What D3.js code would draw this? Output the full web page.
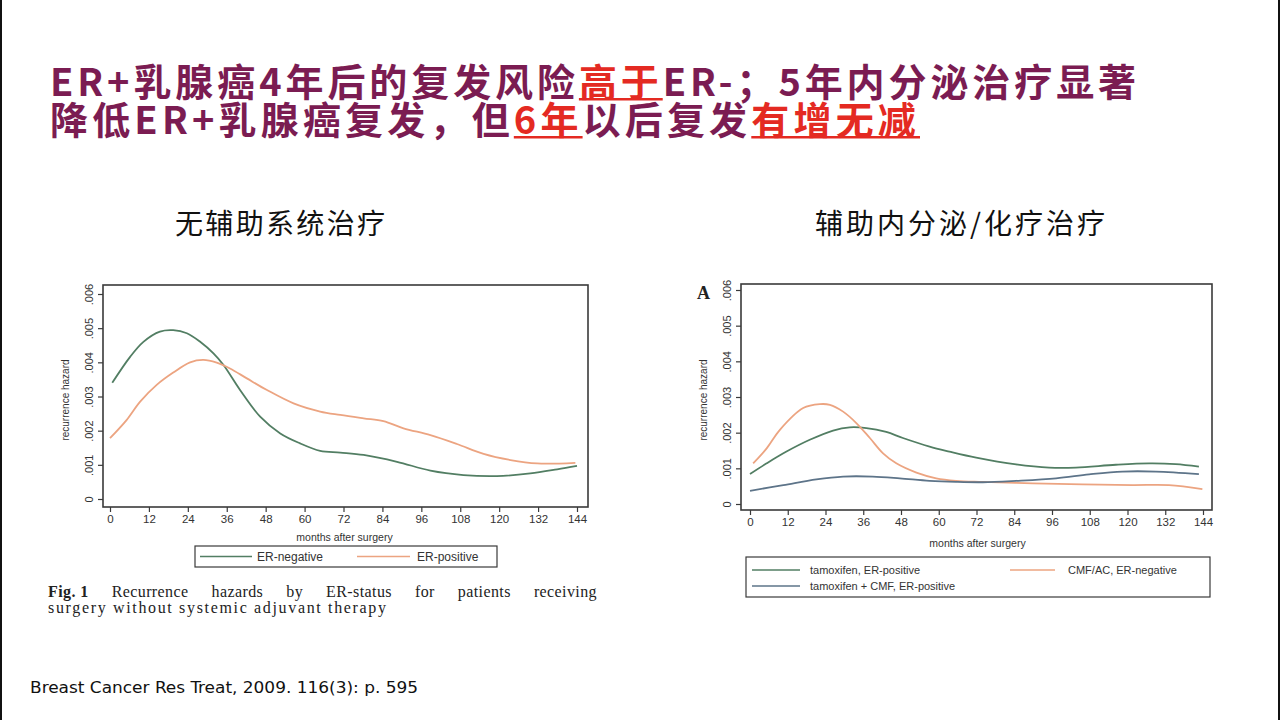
<!DOCTYPE html>
<html>
<head>
<meta charset="utf-8">
<script src="https://cdn.jsdelivr.net/npm/d3@7"></script>
<style>
  body { margin: 0; background: #fff; }
  svg text { font-family: "Liberation Sans", Arial, sans-serif; }
</style>
</head>
<body>
<div id="slide"></div>
<script>
// ---- Data (months after surgery, recurrence hazard) ----
const monthTicks = [0, 12, 24, 36, 48, 60, 72, 84, 96, 108, 120, 132, 144];
const hazardTicks = [0, 0.001, 0.002, 0.003, 0.004, 0.005, 0.006];

// Left panel: no systemic adjuvant therapy
const erNegative = [[0.7, .00340], [6.2, .00416], [10.3, .00460], [15.4, .00490], [19.5, .00494],
    [23.7, .00485], [27.8, .00460], [31.9, .00426], [35, .00392], [40.1, .00319], [46.3, .00241],
    [52.5, .00192], [58.6, .00163], [64.8, .00141], [71, .00136], [78.2, .00129], [88.5, .00109],
    [98.8, .00083], [109, .00070], [119.3, .00067], [129.6, .00075], [137.9, .00087], [144, .00097]];
const erPositive = [[0, .00178], [5.1, .00231], [9.3, .00285], [14.4, .00334], [19.5, .00370],
    [24.7, .00400], [28.8, .00407], [32.9, .00399], [37, .00382], [42.2, .00353], [48.4, .00319],
    [56.6, .00280], [64.8, .00256], [71, .00246], [78.2, .00236], [84.3, .00228], [90.5, .00207],
    [98.8, .00187], [107, .00161], [115.2, .00132], [123.5, .00114], [131.7, .00104], [143.5, .00106]];

// Right panel: adjuvant endocrine / chemotherapy
const tamoxifenErPos = [[0, .00084], [5.3, .00114], [11.6, .00147], [19, .00180], [26.4, .00206],
    [31.7, .00215], [37, .00213], [43.3, .00202], [48.6, .00185], [57.1, .00161], [63.4, .00147],
    [71.9, .00130], [84.6, .00111], [95.1, .00102], [103.6, .00102], [116.3, .00110],
    [126.9, .00114], [135.3, .00112], [142.7, .00105]];
const tamCmfErPos = [[0, .00037], [10.6, .00053], [21.1, .00069], [29.6, .00077], [39, .00077],
    [47.6, .00072], [57.1, .00065], [65.5, .00062], [74, .00061], [84.6, .00065], [97.3, .00072],
    [107.8, .00083], [118.4, .00091], [129, .00091], [142.7, .00084]];
const cmfAcErNeg = [[1, .00114], [5.3, .00156], [9.5, .00208], [16.9, .00269], [22.2, .00280],
    [25.4, .00278], [29.6, .00259], [33.8, .00227], [38.1, .00185], [42.3, .00142], [46.5, .00114],
    [52.9, .00088], [59.2, .00072], [65.5, .00065], [74, .00062], [89.9, .00058], [105.7, .00055],
    [121.6, .00053], [133.2, .00053], [143.8, .00042]];

// Text
const titleLines = [
    [["ER+乳腺癌4年后的复发风险", false], ["高于", true], ["ER-；5年内分泌治疗显著", false]],
    [["降低ER+乳腺癌复发，但", false], ["6年", true], ["以后复发", false], ["有增无减", true]]
];
const captionWords = ["Recurrence", "hazards", "by", "ER-status", "for", "patients", "receiving"];

// Colours
const purple = "#7b1c52";
const red = "#e42a22";
const green = "#527e63";
const orange = "#eca481";
const slate = "#5d7489";

const width = 1280;
const height = 720;

const svg = d3.select("#slide")
    .append("svg")
    .attr("width", width)
    .attr("height", height);

svg.append("rect").attr("width", width).attr("height", height).attr("fill", "#fff");
// thin dark edges of the slide
svg.append("rect").attr("x", 0).attr("y", 0).attr("width", 2).attr("height", height).attr("fill", "#111");
svg.append("rect").attr("x", width - 2).attr("y", 0).attr("width", 2).attr("height", height).attr("fill", "#111");

// ---- Title: one text block, two lines, highlighted parts red and underlined ----
const titleFont = "'Noto Sans CJK SC', sans-serif";
const titleSpec = [{ y: 96, len: 1090 }, { y: 134, len: 870 }];
const title = svg.append("text")
    .style("font-family", titleFont)
    .attr("font-size", "38px")
    .attr("font-weight", "bold")
    .attr("fill", purple);

const titleMarks = [];
let charIdx = 0;
titleLines.forEach((parts, i) => {
    const full = parts.map(p => p[0]).join("");
    // measure natural width to spread the line to the reference width
    const probe = svg.append("text")
        .style("font-family", titleFont)
        .attr("font-size", "38px")
        .attr("font-weight", "bold")
        .text(full);
    const natural = probe.node().getComputedTextLength();
    probe.remove();
    const spacing = (titleSpec[i].len - natural) / full.length;

    const lineSpan = title.append("tspan")
        .attr("x", 50)
        .attr("y", titleSpec[i].y)
        .attr("letter-spacing", spacing + "px");
    parts.forEach(([str, hi]) => {
        lineSpan.append("tspan").attr("fill", hi ? red : purple).text(str);
        if (hi) titleMarks.push([charIdx, charIdx + str.length - 1, titleSpec[i].y]);
        charIdx += str.length;
    });
});
titleMarks.forEach(([a, b, y]) => {
    const node = title.node();
    const x0 = node.getStartPositionOfChar(a).x;
    const x1 = node.getEndPositionOfChar(b).x;
    svg.append("rect")
        .attr("x", x0).attr("y", y + 2)
        .attr("width", x1 - x0).attr("height", 2.5)
        .attr("fill", red);
});

// ---- Panel subtitles ----
[["无辅助系统治疗", 175, 210], ["辅助内分泌/化疗治疗", 815, 290]].forEach(([str, x, len]) => {
    svg.append("text")
        .attr("x", x)
        .attr("y", 234)
        .style("font-family", "'Noto Sans CJK SC', sans-serif")
        .attr("font-size", "28px")
        .attr("fill", "#111")
        .attr("textLength", len)
        .attr("lengthAdjust", "spacing")
        .text(str);
});

// ---- A Stata-style hazard panel ----
function drawPanel(p) {
    const xScale = d3.scaleLinear().domain([0, 144]).range(p.xRange);
    const yScale = d3.scaleLinear().domain([0, 0.006]).range(p.yRange);

    // plot frame
    svg.append("rect")
        .attr("x", p.frame[0]).attr("y", p.frame[1])
        .attr("width", p.frame[2] - p.frame[0]).attr("height", p.frame[3] - p.frame[1])
        .attr("fill", "#fff")
        .attr("stroke", "#3a3a3a")
        .attr("stroke-width", 1.6);

    // Y-axis with rotated labels
    const yAxis = svg.append("g")
        .attr("transform", `translate(${p.frame[0]},0)`)
        .call(d3.axisLeft(yScale)
            .tickValues(hazardTicks)
            .tickSize(5)
            .tickFormat(d => d === 0 ? "0" : d3.format(".3f")(d).replace("0.", ".")));
    yAxis.select(".domain").remove();
    yAxis.selectAll("line").attr("stroke", "#3a3a3a").attr("stroke-width", 1.2);
    yAxis.selectAll("text")
        .attr("transform", "rotate(-90)")
        .attr("x", 0).attr("y", -10).attr("dy", 0)
        .attr("text-anchor", "middle")
        .attr("font-size", "11px")
        .attr("fill", "#333")
        .style("font-family", "'Liberation Sans', Arial, sans-serif");

    // X-axis
    const xAxis = svg.append("g")
        .attr("transform", `translate(0,${p.frame[3]})`)
        .call(d3.axisBottom(xScale).tickValues(monthTicks).tickSize(5).tickPadding(3));
    xAxis.select(".domain").remove();
    xAxis.selectAll("line").attr("stroke", "#3a3a3a").attr("stroke-width", 1.2);
    xAxis.selectAll("text")
        .attr("font-size", "11.5px")
        .attr("fill", "#333")
        .style("font-family", "'Liberation Sans', Arial, sans-serif");

    // axis titles
    svg.append("text")
        .attr("transform", `translate(${p.yTitleX},400) rotate(-90)`)
        .attr("text-anchor", "middle")
        .attr("font-size", "10px")
        .attr("fill", "#333")
        .text("recurrence hazard");
    svg.append("text")
        .attr("x", (p.xRange[0] + p.xRange[1]) / 2 + 1)
        .attr("y", p.xTitleY)
        .attr("text-anchor", "middle")
        .attr("font-size", "10.5px")
        .attr("fill", "#333")
        .text("months after surgery");

    // hazard curves
    const line = d3.line()
        .x(d => xScale(d[0]))
        .y(d => yScale(d[1]))
        .curve(d3.curveCatmullRom.alpha(0.5));
    p.series.forEach(s => {
        svg.append("path")
            .datum(s.data)
            .attr("fill", "none")
            .attr("stroke", s.color)
            .attr("stroke-width", 1.8)
            .attr("d", line);
    });

    // legend box
    const lb = p.legendBox;
    svg.append("rect")
        .attr("x", lb[0]).attr("y", lb[1])
        .attr("width", lb[2] - lb[0]).attr("height", lb[3] - lb[1])
        .attr("fill", "#fff")
        .attr("stroke", "#3a3a3a")
        .attr("stroke-width", 1.2);
    p.series.forEach(s => {
        svg.append("line")
            .attr("x1", s.key[0]).attr("x2", s.key[0] + s.key[3])
            .attr("y1", s.key[2]).attr("y2", s.key[2])
            .attr("stroke", s.color)
            .attr("stroke-width", 1.6);
        svg.append("text")
            .attr("x", s.key[1])
            .attr("y", s.key[2] + 4)
            .attr("font-size", p.legendFont)
            .attr("fill", "#333")
            .text(s.name);
    });
}

drawPanel({
    frame: [103, 285, 588, 507],
    xRange: [110, 577],
    yRange: [499, 294],
    yTitleX: 69,
    xTitleY: 541,
    legendBox: [195, 546, 497, 567],
    legendFont: "12px",
    series: [
        { name: "ER-negative", data: erNegative, color: green, key: [200, 257, 556.5, 52] },
        { name: "ER-positive", data: erPositive, color: orange, key: [357, 417, 556.5, 53] }
    ]
});

drawPanel({
    frame: [741, 284, 1212, 510],
    xRange: [750, 1203],
    yRange: [504, 290],
    yTitleX: 707,
    xTitleY: 547,
    legendBox: [746, 557, 1210, 597],
    legendFont: "11px",
    series: [
        { name: "tamoxifen, ER-positive", data: tamoxifenErPos, color: green, key: [752, 810, 570, 48] },
        { name: "CMF/AC, ER-negative", data: cmfAcErNeg, color: orange, key: [1010, 1068, 570, 45] },
        { name: "tamoxifen + CMF, ER-positive", data: tamCmfErPos, color: slate, key: [752, 810, 586, 48] }
    ]
});

// panel letter
svg.append("text")
    .attr("x", 697).attr("y", 299)
    .style("font-family", "'Liberation Serif', 'Times New Roman', serif")
    .attr("font-size", "18px")
    .attr("font-weight", "bold")
    .attr("fill", "#222")
    .text("A");

// ---- Figure caption (justified first line) ----
const capX0 = 48, capX1 = 597, capY = 597;
const capFont = "'Liberation Serif', 'Times New Roman', serif";
const capTokens = [{ s: "Fig. 1", b: true }].concat(captionWords.map(w => ({ s: w, b: false })));
const capNodes = capTokens.map(tk => svg.append("text")
    .attr("y", capY)
    .style("font-family", capFont)
    .attr("font-size", "16px")
    .attr("font-weight", tk.b ? "bold" : "normal")
    .attr("fill", "#222")
    .attr("letter-spacing", "0.4px")
    .text(tk.s));
const capWidths = capNodes.map(n => n.node().getComputedTextLength());
const capGap = (capX1 - capX0 - d3.sum(capWidths)) / (capNodes.length - 1);
let cx = capX0;
capNodes.forEach((n, i) => { n.attr("x", cx); cx += capWidths[i] + capGap; });

svg.append("text")
    .attr("x", capX0).attr("y", capY + 16)
    .style("font-family", capFont)
    .attr("font-size", "16px")
    .attr("fill", "#222")
    .attr("textLength", 338)
    .attr("lengthAdjust", "spacing")
    .text("surgery without systemic adjuvant therapy");

// ---- Source reference ----
svg.append("text")
    .attr("x", 30).attr("y", 693)
    .style("font-family", "'DejaVu Sans Condensed', 'DejaVu Sans', sans-serif")
    .attr("font-size", "16px")
    .attr("fill", "#111")
    .attr("textLength", 388)
    .attr("lengthAdjust", "spacingAndGlyphs")
    .text("Breast Cancer Res Treat, 2009. 116(3): p. 595");
</script>
</body>
</html>
